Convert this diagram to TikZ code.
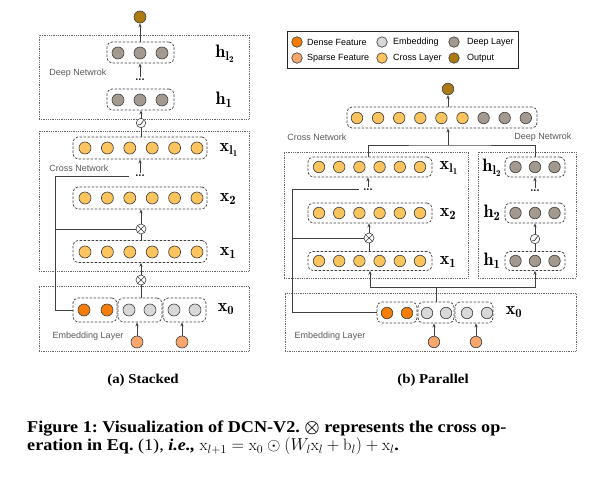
\documentclass[tikz,border=0pt]{standalone}
\usepackage{amsmath}
\usepackage{fontspec}
\newfontfamily\arial{Liberation Sans}
\newfontfamily\capfont[FakeStretch=1.1]{Liberation Serif}
\usetikzlibrary{arrows.meta,calc}
\definecolor{densec}{RGB}{245,125,5}
\definecolor{sparsec}{RGB}{248,166,110}
\definecolor{embc}{RGB}{216,216,216}
\definecolor{crossc}{RGB}{252,196,92}
\definecolor{deepc}{RGB}{163,153,143}
\definecolor{outc}{RGB}{172,122,14}
\frenchspacing
\begin{document}
\begin{tikzpicture}[x=1pt,y=-1pt,
  neuron/.style={circle,draw=black!75,line width=0.65pt,minimum size=12pt,inner sep=0pt},
  sneuron/.style={neuron,minimum size=11.5pt},
  layerbox/.style={draw=black!75,dash pattern=on 2.5pt off 1.5pt,rounded corners=5pt,line width=0.7pt,inner sep=0pt},
  regionbox/.style={draw=black!60,dash pattern=on 0.8pt off 1pt,line width=0.6pt,inner sep=0pt},
  conn/.style={draw=black!75,line width=0.7pt},
  arr/.style={conn,-{Stealth[length=4pt,width=3.2pt]}},
  lab/.style={font=\fontsize{18}{20}\selectfont,inner sep=0pt},
  nettext/.style={font=\arial\fontsize{9}{10}\selectfont,text=black!65,inner sep=0pt},
  legtext/.style={font=\arial\fontsize{9}{10}\selectfont,text=black,inner sep=0pt,anchor=west},
  dotsnode/.style={font=\arial\bfseries\fontsize{11}{11}\selectfont,text=black!85,inner sep=0pt},
  otimesnode/.style={circle,draw=black!75,fill=white,line width=0.6pt,minimum size=10pt,inner sep=0pt,
    path picture={\draw[black!75,line width=0.6pt] (path picture bounding box.north west)--(path picture bounding box.south east)
      (path picture bounding box.north east)--(path picture bounding box.south west);}},
  actnode/.style={circle,draw=black!75,fill=white,line width=0.6pt,minimum size=9.5pt,inner sep=0pt,
    path picture={\draw[black!80,line width=0.7pt] ([shift={(-3pt,-1.8pt)}]path picture bounding box.center)--([shift={(-0.6pt,-1.8pt)}]path picture bounding box.center)--([shift={(2.6pt,2.6pt)}]path picture bounding box.center);}},
  subcap/.style={font=\capfont\bfseries\fontsize{13.5}{15}\selectfont,inner sep=0pt},
  captext/.style={font=\capfont\fontsize{16.5}{18}\selectfont,inner sep=0pt,anchor=north west,align=left}
]
\useasboundingbox (0,0) rectangle (603,480);

% ================= (a) Stacked =================
\node[regionbox,minimum width=210pt,minimum height=84pt] (sdeep) at (144,77) {};
\node[regionbox,minimum width=210pt,minimum height=140pt] (scross) at (144,201) {};
\node[regionbox,minimum width=210pt,minimum height=65pt] (semb) at (144,318.5) {};
\node[nettext] (sdeeplab) at (78,73) {Deep Netwrok};
\node[nettext] (scrosslab) at (79,168) {Cross Network};
\node[nettext] (semblab) at (88,336) {Embedding Layer};

\node[neuron,fill=outc] (sout) at (140,17) {};
\node[layerbox,minimum width=67pt,minimum height=21pt] (sh2) at (140.5,52.5) {};
\node[layerbox,minimum width=67pt,minimum height=21pt] (sh1) at (140.5,99.5) {};
\foreach \i [count=\k] in {-1,0,1} {
  \node[neuron,fill=deepc] (sh2c\k) at ({140+22*\i},53) {};
  \node[neuron,fill=deepc] (sh1c\k) at ({140+22*\i},100) {};
}
\node[dotsnode] (sdots1) at (140,80) {...};
\node[actnode] (sact) at (141,123) {};

\node[layerbox,minimum width=134pt,minimum height=22pt] (sxl1) at (140,148) {};
\node[layerbox,minimum width=134pt,minimum height=22pt] (sx2) at (140,198) {};
\node[layerbox,minimum width=134pt,minimum height=22pt] (sx1) at (140,251.5) {};
\foreach \i [count=\k] in {0,...,5} {
  \node[neuron,fill=crossc] (sxl1c\k) at ({141+22.4*(\i-2.5)},148) {};
  \node[neuron,fill=crossc] (sx2c\k) at ({141+22.4*(\i-2.5)},198) {};
  \node[neuron,fill=crossc] (sx1c\k) at ({141+22.4*(\i-2.5)},252) {};
}
\node[dotsnode] (sdots2) at (140,175.5) {...};
\node[otimesnode] (sox2) at (141,229) {};
\node[otimesnode] (sox1) at (141,280) {};

\node[layerbox,minimum width=44pt,minimum height=24pt] (sx0a) at (95,310) {};
\node[layerbox,minimum width=44pt,minimum height=24pt] (sx0b) at (140,310) {};
\node[layerbox,minimum width=43pt,minimum height=24pt] (sx0c) at (184.5,310) {};
\node[neuron,fill=densec] (sd1) at (84,310) {};
\node[neuron,fill=densec] (sd2) at (107,310) {};
\node[neuron,fill=embc] (se1) at (129,310) {};
\node[neuron,fill=embc] (se2) at (150,310) {};
\node[neuron,fill=embc] (se3) at (174,310) {};
\node[neuron,fill=embc] (se4) at (195,310) {};
\node[neuron,fill=sparsec] (ssp1) at (137,342) {};
\node[neuron,fill=sparsec] (ssp2) at (182,342) {};

\node[lab] (shl2lab) at (225,54) {$\mathbf{h_{l_2}}$};
\node[lab] (sh1lab) at (224,100) {$\mathbf{h_1}$};
\node[lab] (sxl1lab) at (229,150) {$\mathbf{x_{l_1}}$};
\node[lab] (sx2lab) at (228,199) {$\mathbf{x_2}$};
\node[lab] (sx1lab) at (228,253) {$\mathbf{x_1}$};
\node[lab] (sx0lab) at (226,309) {$\mathbf{x_0}$};

\coordinate (sl1) at (55,176);
\coordinate (sl1e) at (129,176);
\coordinate (sl2) at (55,229);
\draw[arr] (sout |- sh2.north) -- (sout);
\draw[arr] ([yshift=1.5pt]sdots1.north) -- (sdots1.north |- sh2.south);
\draw[conn] (sact |- sxl1.north) -- (sact.south);
\draw[arr] (sact.north) -- (sact.north |- sh1.south);
\draw[arr] ([yshift=1.5pt]sdots2.north) -- (sdots2.north |- sxl1.south);
\draw[conn] (sl1) -- (sl1e);
\draw[conn] (sox2 |- sx1.north) -- (sox2.south);
\draw[arr] (sox2.north) -- (sox2.north |- sx2.south);
\draw[conn] (sl2) -- (sox2.west);
\draw[arr] (sox1.north) -- (sox1.north |- sx1.south);
\draw[conn] (sox1 |- sx0b.north) -- (sox1.south);
\draw[conn] (sl1) -- (sl1 |- sx0a.west) -- (sx0a.west);
\draw[arr] (ssp1.north) -- (ssp1.north |- sx0b.south);
\draw[arr] (ssp2.north) -- (ssp2.north |- sx0c.south);

\node[subcap] (scap) at (143,380) {(a) Stacked};

% ================= (b) Parallel =================
\node[draw=black!85,line width=0.7pt,minimum width=231pt,minimum height=37pt,inner sep=0pt] (legend) at (402.5,49.5) {};
\node[neuron,minimum size=10.5pt,fill=densec] (lg1) at (297,42) {};
\node[neuron,minimum size=10.5pt,fill=sparsec] (lg2) at (297,58) {};
\node[neuron,minimum size=10.5pt,fill=embc] (lg3) at (382,42) {};
\node[neuron,minimum size=10.5pt,fill=crossc] (lg4) at (382,58) {};
\node[neuron,minimum size=10.5pt,fill=deepc] (lg5) at (454,42) {};
\node[neuron,minimum size=10.5pt,fill=outc] (lg6) at (454,58) {};
\node[legtext] (lt1) at (307,42) {Dense Feature};
\node[legtext] (lt2) at (307,58) {Sparse Feature};
\node[legtext] (lt3) at (393,42) {Embedding};
\node[legtext] (lt4) at (393,58) {Cross Layer};
\node[legtext] (lt5) at (467,42.5) {Deep Layer};
\node[legtext] (lt6) at (467,58) {Output};

\node[sneuron,fill=outc] (pout) at (448,89) {};
\node[layerbox,minimum width=190pt,minimum height=21pt] (pcat) at (442,117.5) {};
\foreach \i in {0,...,5} \node[sneuron,fill=crossc] (pcc\i) at ({357+21.1*\i},118) {};
\foreach \i in {6,7,8} \node[sneuron,fill=deepc] (pcc\i) at ({357+21.1*\i},118) {};

\node[regionbox,minimum width=184pt,minimum height=126pt] (pcross) at (376,215) {};
\node[regionbox,minimum width=98pt,minimum height=126pt] (pdeep) at (527,215) {};
\node[regionbox,minimum width=291pt,minimum height=58pt] (pemb) at (430.5,322) {};
\node[nettext] (pcrosslab) at (317,137) {Cross Network};
\node[nettext] (pdeeplab) at (543,137) {Deep Netwrok};
\node[nettext] (pemblab) at (330,336) {Embedding Layer};

\node[layerbox,minimum width=124pt,minimum height=20pt] (pxl1) at (370,167) {};
\node[layerbox,minimum width=124pt,minimum height=20pt] (px2) at (370,213) {};
\node[layerbox,minimum width=124pt,minimum height=19pt] (px1) at (370,261) {};
\foreach \i [count=\k] in {0,...,5} {
  \node[sneuron,fill=crossc] (pxl1c\k) at ({319+20.2*\i},167) {};
  \node[sneuron,fill=crossc] (px2c\k) at ({319+20.2*\i},213) {};
  \node[sneuron,fill=crossc] (px1c\k) at ({319+20.2*\i},261) {};
}
\node[dotsnode] (pdots) at (368,189.5) {...};
\node[otimesnode] (pox) at (369,238) {};

\node[layerbox,minimum width=60pt,minimum height=20pt] (phl2) at (535,167) {};
\node[layerbox,minimum width=60pt,minimum height=20pt] (ph2) at (535,213) {};
\node[layerbox,minimum width=60pt,minimum height=19pt] (ph1) at (535,261) {};
\foreach \i [count=\k] in {-1,0,1} {
  \node[sneuron,fill=deepc] (phl2c\k) at ({535+19.5*\i},167) {};
  \node[sneuron,fill=deepc] (ph2c\k) at ({535+19.5*\i},213) {};
  \node[sneuron,fill=deepc] (ph1c\k) at ({535+19.5*\i},261) {};
}
\node[dotsnode] (pdd) at (535,190.5) {...};
\node[actnode] (pact) at (535,239) {};

\node[layerbox,minimum width=40pt,minimum height=21pt] (px0a) at (397,312.5) {};
\node[layerbox,minimum width=36pt,minimum height=21pt] (px0b) at (436,312.5) {};
\node[layerbox,minimum width=38pt,minimum height=21pt] (px0c) at (474,312.5) {};
\node[sneuron,fill=densec] (pd1) at (387,313) {};
\node[sneuron,fill=densec] (pd2) at (407,313) {};
\node[sneuron,fill=embc] (pe1) at (427,313) {};
\node[sneuron,fill=embc] (pe2) at (446,313) {};
\node[sneuron,fill=embc] (pe3) at (467,313) {};
\node[sneuron,fill=embc] (pe4) at (487,313) {};
\node[sneuron,fill=sparsec] (psp1) at (434,342) {};
\node[sneuron,fill=sparsec] (psp2) at (476,342) {};

\node[lab] (pxl1lab) at (449,168) {$\mathbf{x_{l_1}}$};
\node[lab] (px2lab) at (448,214) {$\mathbf{x_2}$};
\node[lab] (px1lab) at (448,262) {$\mathbf{x_1}$};
\node[lab] (phl2lab) at (492,168) {$\mathbf{h_{l_2}}$};
\node[lab] (ph2lab) at (492,213) {$\mathbf{h_2}$};
\node[lab] (ph1lab) at (492,261) {$\mathbf{h_1}$};
\node[lab] (px0lab) at (514,312) {$\mathbf{x_0}$};

\coordinate (pj) at (448,145);
\coordinate (pl1) at (292,189);
\coordinate (pl1e) at (359,189);
\coordinate (pl2) at (292,238);
\coordinate (pb) at (436,287);
\draw[arr] (pout |- pcat.north) -- (pout);
\draw[arr] (pj) -- (pj |- pcat.south);
\draw[conn] (pxl1.north -| 368,0) |- (pj) -| (phl2.north);
\draw[arr] ([yshift=1.5pt]pdots.north) -- (pdots.north |- pxl1.south);
\draw[conn] (pl1) -- (pl1e);
\draw[conn] (pox |- px1.north) -- (pox.south);
\draw[arr] (pox.north) -- (pox.north |- px2.south);
\draw[conn] (pl2) -- (pox.west);
\draw[conn] (pl1) -- (pl1 |- px0a.west) -- (px0a.west);
\draw[arr] ([yshift=1.5pt]pdd.north) -- (pdd.north |- phl2.south);
\draw[conn] (pact |- ph1.north) -- (pact.south);
\draw[arr] (pact.north) -- (pact.north |- ph2.south);
\draw[conn] (px0b.north) -- (pb);
\draw[arr] (pb) -| (px1.south);
\draw[arr] (pb) -| (ph1.south);
\draw[arr] (psp1.north) -- (psp1.north |- px0b.south);
\draw[arr] (psp2.north) -- (psp2.north |- px0c.south);

\node[subcap] (pcap) at (433,380) {(b) Parallel};

% ================= Caption =================
\node[captext] (cap) at (27,421) {\bfseries Figure 1: Visualization of DCN-V2. $\boldsymbol{\otimes}$ represents the cross op-\\
\bfseries eration in Eq.\ \mdseries(1), \bfseries\itshape i.e.,\ \upshape\mdseries$\mathrm{x}_{l+1} = \mathrm{x}_0 \odot (W_l\mathrm{x}_l + \mathrm{b}_l) + \mathrm{x}_l$\bfseries.};
\end{tikzpicture}
\end{document}
